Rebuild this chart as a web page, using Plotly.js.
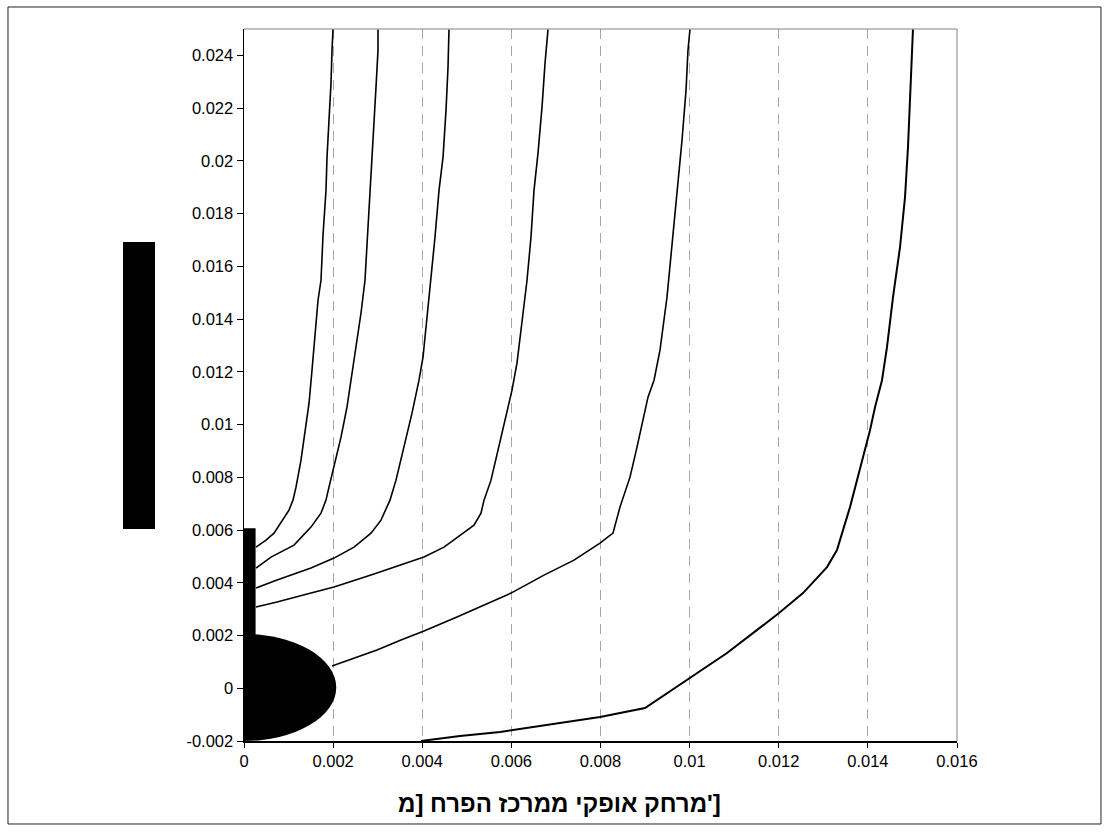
<!DOCTYPE html>
<html>
<head>
<meta charset="utf-8">
<script src="https://cdn.plot.ly/plotly-3.0.1.min.js"></script>
<style>html,body{margin:0;padding:0;background:#fff;}#chart{width:1109px;height:832px;}</style>
</head>
<body>
<div id="chart"></div>
<script>
// ---- data (metres) ----
const xTickVals = [0, 0.002, 0.004, 0.006, 0.008, 0.010, 0.012, 0.014, 0.016];
const xTickText = ["0", "0.002", "0.004", "0.006", "0.008", "0.01", "0.012", "0.014", "0.016"];
const yTickVals = [-0.002, 0, 0.002, 0.004, 0.006, 0.008, 0.010, 0.012, 0.014, 0.016, 0.018, 0.020, 0.022, 0.024];
const yTickText = ["-0.002", "0", "0.002", "0.004", "0.006", "0.008", "0.01", "0.012", "0.014", "0.016", "0.018", "0.02", "0.022", "0.024"];

const line1X = [0.000269, 0.000494, 0.000673, 0.000875, 0.001010, 0.001100, 0.001167, 0.001279, 0.001369, 0.001459, 0.001526, 0.001593, 0.001661, 0.001728, 0.001773, 0.001840, 0.001863, 0.001907, 0.001952, 0.001975, 0.001997];
const line1Y = [0.005353, 0.005618, 0.005883, 0.006376, 0.006755, 0.007134, 0.007627, 0.008650, 0.009673, 0.010810, 0.012061, 0.013463, 0.014714, 0.015472, 0.017177, 0.018883, 0.020134, 0.021536, 0.022938, 0.024189, 0.024985];

const line2X = [0.000269, 0.000606, 0.001122, 0.001503, 0.001728, 0.001840, 0.001907, 0.002020, 0.002177, 0.002311, 0.002424, 0.002536, 0.002625, 0.002715, 0.002783, 0.002850, 0.002917, 0.002962, 0.003007, 0.003007];
const line2Y = [0.004557, 0.004974, 0.005428, 0.006111, 0.006641, 0.007134, 0.007627, 0.008385, 0.009522, 0.010659, 0.011947, 0.013084, 0.014221, 0.015472, 0.017367, 0.019376, 0.021157, 0.022787, 0.024189, 0.024985];

const line3X = [0.000269, 0.000741, 0.001503, 0.002020, 0.002469, 0.002850, 0.003074, 0.003209, 0.003276, 0.003411, 0.003590, 0.003770, 0.003927, 0.004017, 0.004107, 0.004196, 0.004286, 0.004376, 0.004466, 0.004533, 0.004578, 0.004600];
const line3Y = [0.003799, 0.004102, 0.004557, 0.004936, 0.005353, 0.005883, 0.006376, 0.006869, 0.007134, 0.007892, 0.009143, 0.010431, 0.011682, 0.012554, 0.014070, 0.015472, 0.017102, 0.018883, 0.020134, 0.021915, 0.023545, 0.024985];

const line4X = [0.000269, 0.000741, 0.001503, 0.002020, 0.002850, 0.003523, 0.004039, 0.004488, 0.004870, 0.005161, 0.005318, 0.005386, 0.005543, 0.005722, 0.005902, 0.006014, 0.006126, 0.006238, 0.006351, 0.006440, 0.006508, 0.006597, 0.006687, 0.006755, 0.006822];
const line4Y = [0.003079, 0.003268, 0.003609, 0.003837, 0.004291, 0.004670, 0.004974, 0.005353, 0.005807, 0.006186, 0.006641, 0.007134, 0.007892, 0.009143, 0.010431, 0.011303, 0.012326, 0.013842, 0.015472, 0.017102, 0.018883, 0.020285, 0.022029, 0.023696, 0.024985];

const line5X = [0.001975, 0.002985, 0.003523, 0.004039, 0.004780, 0.005992, 0.006732, 0.007405, 0.007989, 0.008280, 0.008437, 0.008662, 0.008819, 0.008954, 0.009066, 0.009201, 0.009335, 0.009492, 0.009604, 0.009717, 0.009829, 0.009919, 0.009963, 0.010008];
const line5Y = [0.000843, 0.001449, 0.001828, 0.002169, 0.002700, 0.003609, 0.004291, 0.004860, 0.005504, 0.005883, 0.006869, 0.008006, 0.009143, 0.010166, 0.011038, 0.011682, 0.012819, 0.014828, 0.016723, 0.018618, 0.020778, 0.022673, 0.024189, 0.024985];

const line6X = [0.003972, 0.004847, 0.005745, 0.007091, 0.007989, 0.008999, 0.010008, 0.010839, 0.012006, 0.012544, 0.013083, 0.013307, 0.013442, 0.013599, 0.013756, 0.013891, 0.014048, 0.014160, 0.014317, 0.014429, 0.014564, 0.014721, 0.014833, 0.014900, 0.014945, 0.014990, 0.015012];
const line6Y = [-0.002000, -0.001810, -0.001659, -0.001318, -0.001090, -0.000749, 0.000388, 0.001335, 0.002851, 0.003609, 0.004595, 0.005239, 0.005997, 0.006869, 0.007892, 0.008764, 0.009787, 0.010659, 0.011682, 0.012933, 0.014828, 0.016723, 0.018618, 0.020513, 0.022408, 0.024189, 0.024985];

// x-axis title, with the unit's closing "']" kept outside the RTL run as in the original rendering
const xTitleMain = "מרחק אופקי ממרכז הפרח [מ";
const xTitleTail = "']";
const xTitle = "\u2067" + xTitleMain + "\u2069" + xTitleTail;

// ---- traces ----
const series = [
  [line1X, line1Y, 1.6],
  [line2X, line2Y, 1.6],
  [line3X, line3Y, 1.6],
  [line4X, line4Y, 1.6],
  [line5X, line5Y, 1.6],
  [line6X, line6Y, 2]
];
const traces = series.map(s => ({
  type: 'scatter', mode: 'lines', x: s[0], y: s[1],
  line: {color: '#000', width: s[2]}, hoverinfo: 'skip', showlegend: false
}));

const tickFont = {family: "Arial, 'Liberation Sans', sans-serif", size: 16.5, color: '#000'};

const layout = {
  width: 1109, height: 832,
  margin: {l: 244, r: 152, t: 29, b: 91},
  paper_bgcolor: '#fff', plot_bgcolor: '#fff',
  showlegend: false,
  xaxis: {
    range: [0, 0.016], tickvals: xTickVals, ticktext: xTickText,
    showgrid: true, gridcolor: '#a6a6a6', gridwidth: 1, griddash: '10px,7px',
    zeroline: false, showline: true, linecolor: '#000', linewidth: 1.5,
    ticks: 'outside', ticklen: 5, tickcolor: '#000', tickfont: tickFont, fixedrange: true
  },
  yaxis: {
    range: [-0.002, 0.025], tickvals: yTickVals, ticktext: yTickText,
    showgrid: false, zeroline: false, showline: true, linecolor: '#000', linewidth: 1.5,
    ticks: 'outside', ticklen: 6, tickcolor: '#000', tickfont: tickFont, fixedrange: true
  },
  shapes: [
    // drop (half ellipse, clipped at x=0)
    {type: 'circle', xref: 'x', yref: 'y', x0: -0.00207, x1: 0.00207, y0: -0.00200, y1: 0.00206,
     fillcolor: '#000', line: {width: 0}},
    // needle
    {type: 'rect', xref: 'x', yref: 'y', x0: -0.00003, x1: 0.00026, y0: 0.0, y1: 0.00607,
     fillcolor: '#000', line: {width: 0}},
    // top and right plot border (gray)
    {type: 'line', xref: 'paper', yref: 'paper', x0: 0, x1: 1, y0: 1, y1: 1, line: {color: '#808080', width: 1}},
    {type: 'line', xref: 'paper', yref: 'paper', x0: 1, x1: 1, y0: 0, y1: 1, line: {color: '#808080', width: 1}},
    // black block left of axis
    {type: 'rect', xref: 'paper', yref: 'paper', x0: -0.16971, x1: -0.12482, y0: 0.29775, y1: 0.70084,
     fillcolor: '#000', line: {width: 0}},
    // outer frame
    {type: 'rect', xref: 'paper', yref: 'paper', x0: -0.33100, x1: 1.20196, y0: -0.11657, y1: 1.03090,
     fillcolor: 'rgba(0,0,0,0)', line: {color: '#222', width: 1}}
  ],
  annotations: [
    {text: xTitle, xref: 'paper', yref: 'paper', x: 0.4418, y: -0.0871,
     xanchor: 'center', yanchor: 'middle', showarrow: false,
     font: {family: "Arial, 'Liberation Sans', 'DejaVu Sans', sans-serif", size: 24, color: '#000', weight: 'bold'}}
  ]
};

Plotly.newPlot('chart', traces, layout, {displayModeBar: false, staticPlot: true});
</script>
</body>
</html>
